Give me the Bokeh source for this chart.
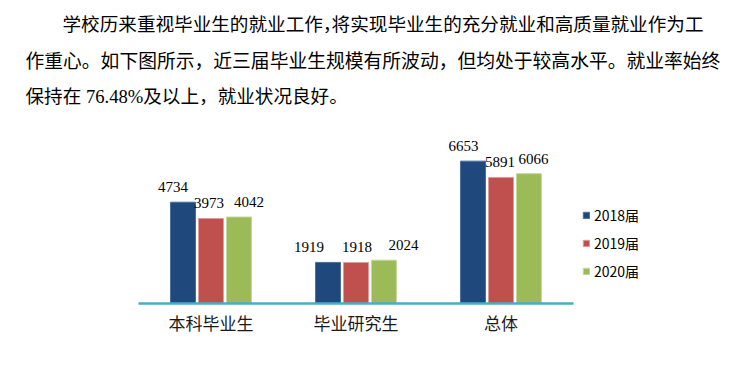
from bokeh.plotting import figure
from bokeh.models import (ColumnDataSource, Range1d, LabelSet, Legend, LegendItem,
                          FixedTicker)
from bokeh.core.properties import value
from bokeh.embed import file_html
from bokeh.resources import INLINE

# ---------------- data ----------------
categories = ["本科毕业生", "毕业研究生", "总体"]
years = ["2018届", "2019届", "2020届"]
v2018 = [4734, 1919, 6653]
v2019 = [3973, 1918, 5891]
v2020 = [4042, 2024, 6066]

para_line1a = "学校历来重视毕业生的就业工作，"
para_line1b = "将实现毕业生的充分就业和高质量就业作为工"
para_line2 = "作重心。如下图所示，近三届毕业生规模有所波动，但均处于较高水平。就业率始终"
para_line3 = "保持在 76.48%及以上，就业状况良好。"

colors = ["#1F497D", "#C0504D", "#9BBB59"]
outlines = ["#4A6E9E", "#E09A98", "#C3D89A"]
# label nudges (screen px) mimicking the original label placement
nudges = [[-10, -19, -9.5], [-2, 1, -1], [10, 19.5, 4.5]]

W = 739
H = 357
FRAME_H = 303          # frame from top of figure down to the baseline
BOTTOM = H - FRAME_H   # axis-label panel

# category units: category i spans [i, i+1]; 145 px per category, axis starts at x=138 px
PX_PER_CAT = 145.0
X0 = -138.0 / PX_PER_CAT
X1 = X0 + W / PX_PER_CAT
Y_END = FRAME_H / 0.0214

p = figure(width=W, height=H, x_range=Range1d(X0, X1), y_range=Range1d(0, Y_END),
           output_backend="svg", toolbar_location=None,
           min_border_left=0, min_border_right=0, min_border_top=0,
           min_border_bottom=BOTTOM)
p.yaxis.visible = False
p.grid.visible = False
p.outline_line_color = None

# pixel-like helper ranges for the paragraph text (origin top-left of the frame)
p.extra_x_ranges = {"px": Range1d(0, W)}
p.extra_y_ranges = {"px": Range1d(FRAME_H, 0)}

pfont = value("Liberation Serif, Noto Sans CJK SC")
common = dict(x_range_name="px", y_range_name="px", text_font=pfont,
              text_baseline="middle", text_color="#000000")
p.text(x=[62], y=[24], text=[para_line1a], text_font_size="18.6px", text_align="left", **common)
p.text(x=[703], y=[24], text=[para_line1b], text_font_size="18.6px", text_align="right", **common)
p.text(x=[25], y=[61], text=[para_line2], text_font_size="18.8px", text_align="left", **common)
p.text(x=[25], y=[96], text=[para_line3], text_font_size="18.6px", text_align="left", **common)

# x axis with category labels
centers = [i + 0.5 for i in range(len(categories))]
p.xaxis.ticker = FixedTicker(ticks=centers)
p.xaxis.major_label_overrides = {c: lab for c, lab in zip(centers, categories)}
p.xaxis.bounds = (0, len(categories))
p.xaxis.axis_line_color = "#4BACC6"
p.xaxis.axis_line_width = 2.5
p.xaxis.major_tick_line_color = None
p.xaxis.minor_tick_line_color = None
p.xaxis.major_label_text_font = "Noto Sans CJK SC"
p.xaxis.major_label_text_font_size = "17px"
p.xaxis.major_label_text_color = "#1a1a1a"
p.xaxis.major_label_standoff = 0

offsets = [-0.193, 0.0, 0.193]
bw = 0.172
series = [v2018, v2019, v2020]
data = dict(cat=categories)
for i in range(3):
    data[f"x{i}"] = [c + offsets[i] for c in centers]
    data[f"y{i}"] = series[i]
    data[f"t{i}"] = [str(v) for v in series[i]]
    data[f"n{i}"] = nudges[i]
src = ColumnDataSource(data)

items = []
for i in range(3):
    r = p.vbar(x=f"x{i}", top=f"y{i}", width=bw, source=src,
               fill_color=colors[i], line_color=outlines[i], line_width=1)
    items.append(LegendItem(label=years[i], renderers=[r]))
    ls = LabelSet(x=f"x{i}", y=f"y{i}", text=f"t{i}",
                  x_offset=f"n{i}", y_offset=10, source=src,
                  text_font=value("Liberation Serif"), text_font_size="15px",
                  text_align="center", text_baseline="alphabetic", text_color="#000000")
    p.add_layout(ls)

legend = Legend(items=items, location=(582, 22), margin=0, padding=0,
                glyph_width=8, glyph_height=8, label_height=20, spacing=8,
                label_standoff=4, border_line_color=None, background_fill_alpha=0,
                label_text_font="Noto Sans CJK SC", label_text_font_size="14px",
                label_text_color="#000000")
p.add_layout(legend)

open("out.html", "w").write(file_html(p, INLINE))
